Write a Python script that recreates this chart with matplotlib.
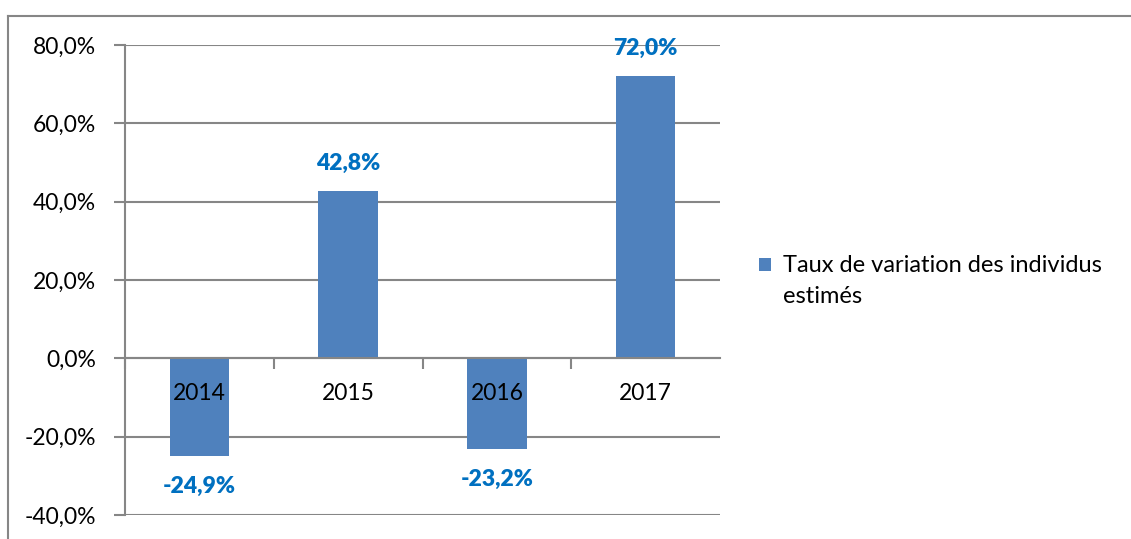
import matplotlib
matplotlib.use("Agg")
from matplotlib import pyplot as plt
from matplotlib.lines import Line2D
from matplotlib.patches import Rectangle
from matplotlib.container import BarContainer
from matplotlib.legend_handler import HandlerPatch
from matplotlib.ticker import FuncFormatter, FixedLocator

years = ["2014", "2015", "2016", "2017"]
variation = [-24.9, 42.8, -23.2, 72.0]
value_labels = ["-24,9%", "42,8%", "-23,2%", "72,0%"]
series_name = "Taux de variation des individus\nestimés"

bar_color = "#4F81BD"
label_color = "#0070C0"
grid_color = "#868686"

plt.rcParams['font.family'] = ['Lato', 'DejaVu Sans']

fig = plt.figure(figsize=(11.31, 5.39), dpi=100)
ax = fig.add_axes([125 / 1131, 1 - 515 / 539, 595 / 1131, 470 / 539])

x = list(range(len(years)))
ax.bar(x, variation, width=0.4, color=bar_color, zorder=2, label=series_name)

ax.set_xlim(-0.5, len(years) - 0.5)
ax.set_ylim(-40, 80)
ax.set_yticks(range(-40, 81, 20))
ax.yaxis.set_major_formatter(FuncFormatter(lambda v, p: f"{v:.1f}%".replace(".", ",")))
ax.tick_params(axis='y', length=8, width=1.5, color=grid_color, pad=13, labelsize=16.5)

# category boundaries as tick marks on the zero line
ax.spines['bottom'].set_position(('data', 0))
ax.xaxis.set_major_locator(FixedLocator([i + 0.5 for i in x[:-1]] + [-0.5]))
ax.xaxis.set_major_formatter(FuncFormatter(lambda v, p: ""))
ax.tick_params(axis='x', length=8, width=1.5, color=grid_color, direction='out')

for side in ['top', 'right']:
    ax.spines[side].set_visible(False)
for side in ['left', 'bottom']:
    ax.spines[side].set_color(grid_color)
    ax.spines[side].set_linewidth(1.5)

ax.set_axisbelow(True)
ax.grid(axis='y', color=grid_color, linewidth=1.5)

# year labels drawn on top of the bars, just under the zero line
for xi, yr in zip(x, years):
    ax.annotate(yr, (xi, 0), xytext=(0, -25), textcoords='offset points',
                ha='center', va='center', fontsize=16.5, color='black', zorder=4)

# value labels
for xi, v, lab in zip(x, variation, value_labels):
    off = 20 if v > 0 else -22
    ax.annotate(lab, (xi, v), xytext=(0, off), textcoords='offset points',
                ha='center', va='center', fontsize=16.5, fontweight='heavy',
                color=label_color, zorder=4)


# legend square sits on the first line of the two-line label
def top_square(legend, orig_handle, xdescent, ydescent, width, height, fontsize):
    return Rectangle((-xdescent, -ydescent + 12), width, height)


def from_first_bar(tgt, src):
    tgt.update_from(src.patches[0])


ax.legend(loc='center left', bbox_to_anchor=(759 / 1131, 1 - 281 / 539),
          bbox_transform=fig.transFigure, frameon=False,
          prop={'size': 17}, labelspacing=0,
          handlelength=0.5, handleheight=0.5, handletextpad=0.5,
          borderpad=0, borderaxespad=0,
          handler_map={BarContainer: HandlerPatch(patch_func=top_square,
                                                  update_func=from_first_bar)})
for t in ax.get_legend().get_texts():
    t.set_linespacing(1.6)

# outer chart frame
fig.add_artist(Line2D([8 / 1131, 1], [1 - 16 / 539, 1 - 16 / 539], color=grid_color, linewidth=1.5,
                      transform=fig.transFigure))
fig.add_artist(Line2D([8 / 1131, 8 / 1131], [0, 1 - 16 / 539], color=grid_color, linewidth=1.5,
                      transform=fig.transFigure))

fig.savefig("out.png", dpi=100)
